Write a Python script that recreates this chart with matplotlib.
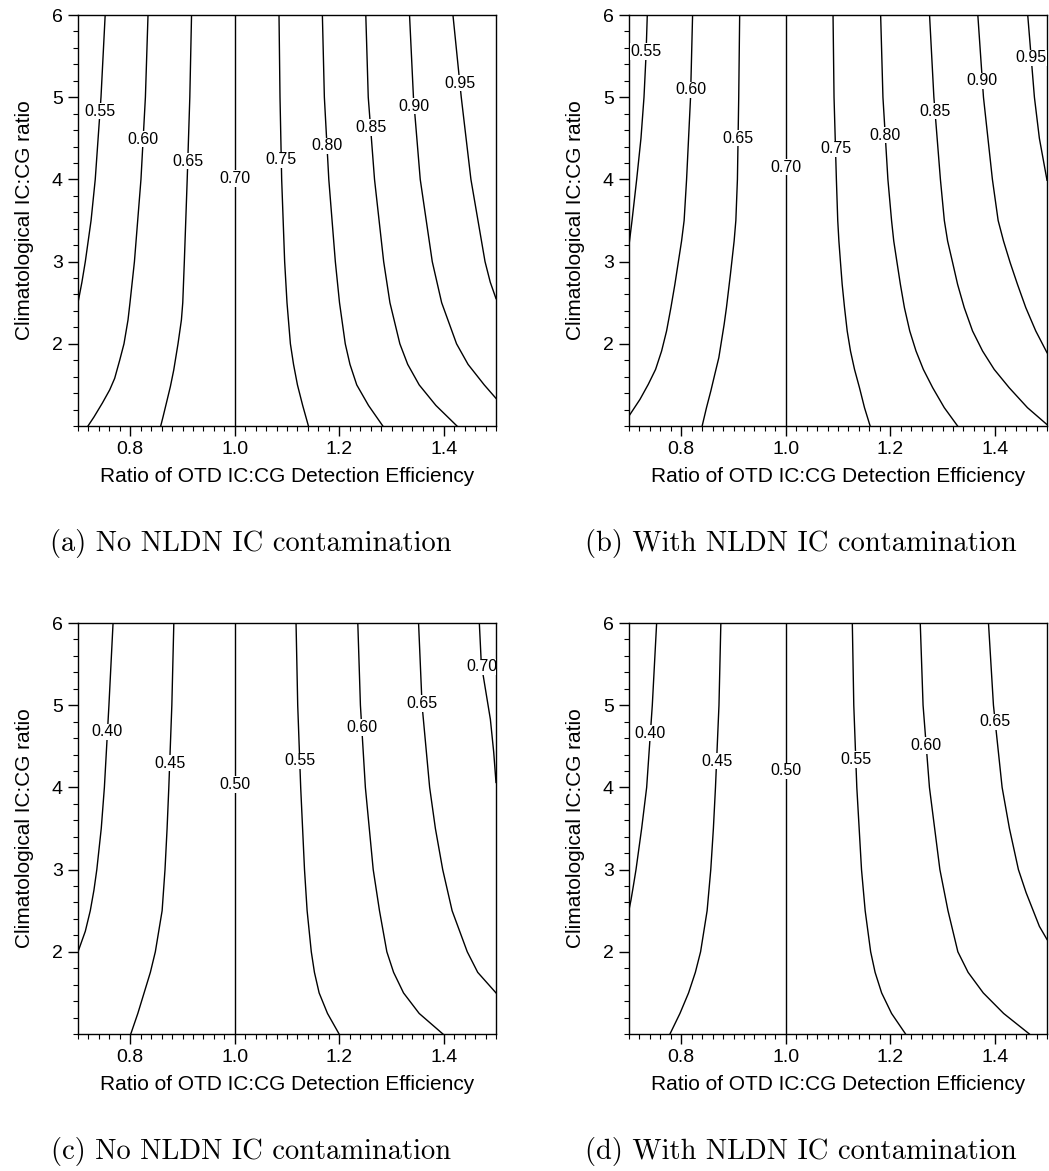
import numpy as np
import matplotlib.pyplot as plt
from matplotlib.ticker import MultipleLocator, FixedLocator

# ------------------------------
# Contour lines
# each line: (y values, x values)
# ------------------------------
levels_a = ["0.55", "0.60", "0.65", "0.70", "0.75", "0.80", "0.85", "0.90", "0.95"]
lines_a = [
    ([6, 5, 4, 3.5, 3, 2.75, 2.5],
     [0.752, 0.744, 0.733, 0.725, 0.714, 0.7075, 0.700]),
    ([6, 5, 4, 3, 2.5, 2.29, 2, 1.8, 1.58, 1.44, 1.28, 1.11, 1.0],
     [0.834, 0.829, 0.8205, 0.808, 0.7995, 0.7957, 0.788, 0.7798, 0.7702, 0.7607, 0.7467, 0.7306, 0.7191]),
    ([6, 5, 4, 3, 2.5, 2.29, 2, 1.68, 1.48, 1.28, 1.11, 1.0],
     [0.9173, 0.914, 0.909, 0.9035, 0.9005, 0.8979, 0.8914, 0.8832, 0.8768, 0.8692, 0.8627, 0.8583]),
    ([6, 1], [1.0, 1.0]),
    ([6, 5, 4, 3, 2.5, 2, 1.75, 1.5, 1.25, 1.0],
     [1.0847, 1.0866, 1.0898, 1.0955, 1.1, 1.1065, 1.1125, 1.12, 1.130, 1.141]),
    ([6, 5, 4, 3, 2.5, 2, 1.75, 1.5, 1.25, 1.0],
     [1.1677, 1.1715, 1.1800, 1.1925, 1.2005, 1.2115, 1.2205, 1.2335, 1.256, 1.2834]),
    ([6, 5, 4, 3, 2.5, 2, 1.75, 1.5, 1.25, 1.0],
     [1.2508, 1.2555, 1.2675, 1.2850, 1.2970, 1.3160, 1.3310, 1.3530, 1.3850, 1.4253]),
    ([6, 5, 4, 3, 2.5, 2, 1.75, 1.5, 1.336],
     [1.3345, 1.342, 1.355, 1.378, 1.396, 1.4245, 1.4465, 1.4775, 1.5]),
    ([6, 5, 4, 3, 2.75, 2.55],
     [1.4176, 1.4335, 1.452, 1.479, 1.489, 1.5]),
]
label_y_a = [4.83, 4.49, 4.22, 4.01, 4.24, 4.41, 4.63, 4.89, 5.17]

levels_b = ["0.55", "0.60", "0.65", "0.70", "0.75", "0.80", "0.85", "0.90", "0.95"]
lines_b = [
    ([6, 5.5, 5, 4.5, 4, 3.5, 3.2],
     [0.735, 0.7325, 0.7287, 0.7229, 0.7147, 0.7058, 0.7]),
    ([6, 5, 4, 3.5, 3.25, 2.987, 2.723, 2.44, 2.156, 1.912, 1.689, 1.507, 1.324, 1.122],
     [0.8217, 0.8178, 0.8102, 0.8055, 0.8006, 0.7942, 0.7878, 0.7802, 0.7719, 0.7624, 0.7509, 0.7369, 0.7210, 0.7]),
    ([6, 5, 4, 3.5, 3.25, 2.845, 2.44, 2.237, 2.034, 1.831, 1.629, 1.426, 1.223, 1.0],
     [0.9118, 0.9100, 0.9075, 0.9045, 0.9012, 0.8941, 0.8865, 0.8821, 0.8770, 0.8719, 0.8642, 0.8566, 0.8483, 0.8400]),
    ([6, 1], [1.0, 1.0]),
    ([6, 5, 4, 3.5, 3.25, 2.987, 2.723, 2.44, 2.156, 1.912, 1.689, 1.466, 1.223, 1.0],
     [1.0905, 1.0924, 1.0969, 1.0995, 1.1017, 1.1048, 1.108, 1.1125, 1.1176, 1.1239, 1.1316, 1.1411, 1.1507, 1.1615]),
    ([6, 5, 4, 3.5, 3.25, 2.987, 2.723, 2.44, 2.156, 1.912, 1.689, 1.466, 1.223, 1.0],
     [1.1816, 1.186, 1.1955, 1.2025, 1.2067, 1.213, 1.2194, 1.2271, 1.2373, 1.2493, 1.2633, 1.2812, 1.3034, 1.3289]),
    ([6, 5, 4, 3.5, 3.25, 2.987, 2.723, 2.44, 2.156, 1.912, 1.689, 1.466, 1.223, 1.02],
     [1.2752, 1.2835, 1.2960, 1.3035, 1.3098, 1.3194, 1.3289, 1.3416, 1.3575, 1.3767, 1.3989, 1.4276, 1.4626, 1.4995]),
    ([6, 5, 4, 3.5, 3.25, 2.987, 2.723, 2.44, 2.156, 1.892],
     [1.3676, 1.3784, 1.3955, 1.4065, 1.4168, 1.4295, 1.4435, 1.4594, 1.4785, 1.5]),
    ([6, 5, 4.5, 3.99],
     [1.4631, 1.4759, 1.4854, 1.5]),
]
label_y_b = [5.555, 5.09, 4.50, 4.15, 4.37, 4.54, 4.83, 5.20, 5.48]

levels_c = ["0.40", "0.45", "0.50", "0.55", "0.60", "0.65", "0.70"]
lines_c = [
    ([6, 5, 4, 3.5, 3, 2.75, 2.5, 2.25, 2.0],
     [0.7671, 0.7592, 0.7505, 0.7445, 0.736, 0.7305, 0.7235, 0.7140, 0.7]),
    ([6, 5, 4, 3.5, 3, 2.5, 2, 1.75, 1.5, 1.25, 1.0],
     [0.8834, 0.8796, 0.8738, 0.8705, 0.8665, 0.861, 0.848, 0.8385, 0.8265, 0.8145, 0.801]),
    ([6, 1], [1.0, 1.0]),
    ([6, 5, 4, 3, 2.5, 2, 1.75, 1.5, 1.25, 1.0],
     [1.1173, 1.1205, 1.1262, 1.1335, 1.1385, 1.1465, 1.1525, 1.1615, 1.1775, 1.1997]),
    ([6, 5, 4, 3, 2.5, 2, 1.75, 1.5, 1.25, 1.0],
     [1.2355, 1.2405, 1.2500, 1.2650, 1.2770, 1.2911, 1.3040, 1.3230, 1.3530, 1.3984]),
    ([6, 5, 4, 3.5, 3, 2.5, 2, 1.75, 1.5],
     [1.3518, 1.3585, 1.3730, 1.3840, 1.3980, 1.4160, 1.4450, 1.4650, 1.5]),
    ([6, 5.5, 4.83, 4.43, 4.06],
     [1.4681, 1.4719, 1.4892, 1.4956, 1.5]),
]
label_y_c = [4.676, 4.296, 4.034, 4.325, 4.728, 5.019, 5.467]

levels_d = ["0.40", "0.45", "0.50", "0.55", "0.60", "0.65"]
lines_d = [
    ([6, 5, 4, 3.5, 3, 2.80, 2.63, 2.51],
     [0.7529, 0.7446, 0.7338, 0.7242, 0.7134, 0.7083, 0.7038, 0.7]),
    ([6, 5, 4, 3.5, 3, 2.5, 2, 1.75, 1.5, 1.25, 1.0],
     [0.8758, 0.8722, 0.8655, 0.8615, 0.8565, 0.8495, 0.8370, 0.8270, 0.8140, 0.7975, 0.7784]),
    ([6, 1], [1.0, 1.0]),
    ([6, 5, 4, 3, 2.5, 2, 1.75, 1.5, 1.25, 1.0],
     [1.1274, 1.1302, 1.1360, 1.1450, 1.1520, 1.1625, 1.1710, 1.1835, 1.2025, 1.2293]),
    ([6, 5, 4, 3, 2.5, 2, 1.75, 1.5, 1.25, 1.0],
     [1.2574, 1.2628, 1.2750, 1.2950, 1.3105, 1.3294, 1.3490, 1.3780, 1.4170, 1.4663]),
    ([6, 5, 4, 3.5, 3, 2.72, 2.31, 2.15],
     [1.388, 1.3975, 1.4141, 1.4281, 1.4453, 1.46, 1.4854, 1.5]),
]
label_y_d = [4.66, 4.32, 4.20, 4.34, 4.51, 4.80]

captions = ["(a) No NLDN IC contamination", "(b) With NLDN IC contamination",
            "(c) No NLDN IC contamination", "(d) With NLDN IC contamination"]
xticks = [0.8, 1.0, 1.2, 1.4]
yticks = [2, 3, 4, 5, 6]

# ------------------------------
# Plot
# ------------------------------
plt.rcParams['font.family'] = ['Liberation Sans', 'DejaVu Sans']
fig = plt.figure(figsize=(10.49, 11.71), dpi=100)

W, H = 1049, 1171
boxes = [(78, 15), (629, 15), (78, 623), (629, 623)]  # left, top in px
aw, ah = 418, 411
cap_pos = [(251, 543), (801, 543), (251, 1152), (801, 1152)]

panels = [(levels_a, lines_a, label_y_a), (levels_b, lines_b, label_y_b),
          (levels_c, lines_c, label_y_c), (levels_d, lines_d, label_y_d)]

for i, (levels, lines, label_y) in enumerate(panels):
    l, t = boxes[i]
    ax = fig.add_axes([l / W, 1 - (t + ah) / H, aw / W, ah / H])
    for lev, (ys, xs), ly in zip(levels, lines, label_y):
        ax.plot(xs, ys, color='black', lw=1.0)
        # label sits on the line
        lx = np.interp(ly, np.array(ys)[::-1], np.array(xs)[::-1])
        ax.text(lx, ly, lev, fontsize=11.5, ha='center', va='center', clip_on=True,
                bbox=dict(facecolor='white', edgecolor='none', pad=0.5))
    ax.set_xlim(0.7, 1.5)
    ax.set_ylim(1, 6)
    ax.xaxis.set_major_locator(FixedLocator(xticks))
    ax.set_xticklabels([f"{v:.1f}" for v in xticks])
    ax.xaxis.set_minor_locator(MultipleLocator(0.02))
    ax.yaxis.set_major_locator(FixedLocator(yticks))
    ax.yaxis.set_minor_locator(MultipleLocator(0.2))
    ax.tick_params(which='major', direction='out', length=7, width=1.0, labelsize=14, pad=4)
    ax.tick_params(which='minor', direction='out', length=3.8, width=0.8)
    for sp in ax.spines.values():
        sp.set_linewidth(1.0)
    ax.set_xlabel("Ratio of OTD IC:CG Detection Efficiency", fontsize=15, va='center')
    ax.xaxis.set_label_coords(0.5, -0.123)
    ax.set_ylabel("Climatological IC:CG ratio", fontsize=15, va='center')
    ax.yaxis.set_label_coords(-0.127, 0.5)

    cx, cy = cap_pos[i]
    fig.text(cx / W, 1 - cy / H, captions[i], fontname='cmr10', fontsize=20.5,
             ha='center', va='center')

fig.savefig("out.png", dpi=100)
